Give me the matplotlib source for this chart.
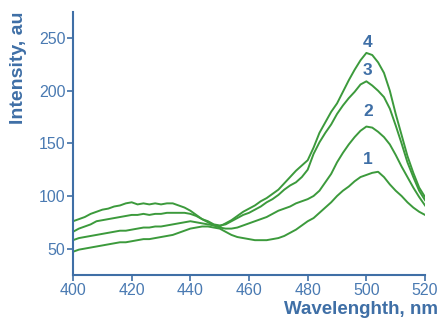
import numpy as np
import matplotlib
matplotlib.use('Agg')
import matplotlib.pyplot as plt

wavelength = list(range(400, 521, 2))

spectrum_1 = [47, 49, 50, 51, 52, 53, 54, 55, 56, 56, 57, 58, 59, 59, 60, 61, 62, 63, 65, 67,
              69, 70, 71, 71, 70, 69, 66, 63, 61, 60, 59, 58, 58, 58, 59, 60, 62, 65, 68, 72,
              76, 79, 84, 89, 94, 100, 105, 109, 114, 118, 120, 122, 123, 118, 111, 105, 100, 94, 89, 85,
              82]
spectrum_2 = [58, 60, 61, 62, 63, 64, 65, 66, 67, 67, 68, 69, 70, 70, 71, 71, 72, 73, 74, 75,
              76, 75, 74, 73, 72, 70, 69, 69, 70, 72, 74, 76, 78, 80, 83, 86, 88, 90, 93, 95,
              97, 100, 105, 113, 121, 132, 141, 149, 156, 162, 166, 165, 161, 156, 149, 139, 128, 118, 108, 99,
              91]
spectrum_3 = [66, 69, 71, 73, 76, 77, 78, 79, 80, 81, 82, 82, 83, 82, 83, 83, 84, 84, 84, 84,
              83, 81, 78, 76, 73, 72, 73, 76, 79, 82, 84, 87, 90, 94, 97, 101, 106, 110, 113, 118,
              125, 140, 151, 160, 168, 178, 186, 193, 199, 206, 209, 205, 200, 194, 183, 167, 150, 132, 118, 105,
              96]
spectrum_4 = [76, 78, 80, 83, 85, 87, 88, 90, 91, 93, 94, 92, 93, 92, 93, 92, 93, 93, 91, 89,
              86, 82, 78, 75, 72, 71, 74, 77, 81, 85, 88, 91, 95, 98, 102, 106, 112, 118, 124, 129,
              134, 146, 160, 170, 180, 188, 199, 210, 220, 229, 236, 234, 227, 217, 200, 178, 158, 138, 122, 108,
              99]

labels = ['1', '2', '3', '4']
label_x = [500.5, 500.5, 500.5, 500.5]
label_y = [135, 180, 219, 246]

axis_col = '#3f6fa6'
line_col = '#3c9a3c'

plt.rcParams['font.family'] = ['Liberation Sans', 'DejaVu Sans']

fig = plt.figure(figsize=(4.4, 3.3), dpi=100)
ax = fig.add_axes([0.166, 0.167, 0.800, 0.797])

for s in [spectrum_1, spectrum_2, spectrum_3, spectrum_4]:
    ax.plot(wavelength, s, color=line_col, lw=1.4)

for t, x, y in zip(labels, label_x, label_y):
    ax.text(x, y, t, color=axis_col, fontsize=12.5, fontweight='bold',
            ha='center', va='center')

ax.set_xlim(400, 520)
ax.set_ylim(25, 275)
ax.set_xticks(range(400, 521, 20))
ax.set_yticks(range(50, 251, 50))

for side in ['top', 'right']:
    ax.spines[side].set_visible(False)
for side in ['left', 'bottom']:
    ax.spines[side].set_color(axis_col)
    ax.spines[side].set_linewidth(1.5)

ax.tick_params(colors=axis_col, labelcolor='#4a7ab2', labelsize=11.5,
               length=4, width=1.2, pad=1.5)

ax.set_xlabel('Wavelenghth, nm', color=axis_col, fontsize=13.5, fontweight='bold')
ax.xaxis.set_label_coords(1.037, -0.133)
ax.xaxis.label.set_ha('right')
ax.xaxis.label.set_va('center')
ax.set_ylabel('Intensity, au', color=axis_col, fontsize=14, fontweight='bold')
ax.yaxis.set_label_coords(-0.155, 1.0)
ax.yaxis.label.set_va('center')
ax.yaxis.label.set_ha('right')

fig.savefig('out.png', dpi=100)
